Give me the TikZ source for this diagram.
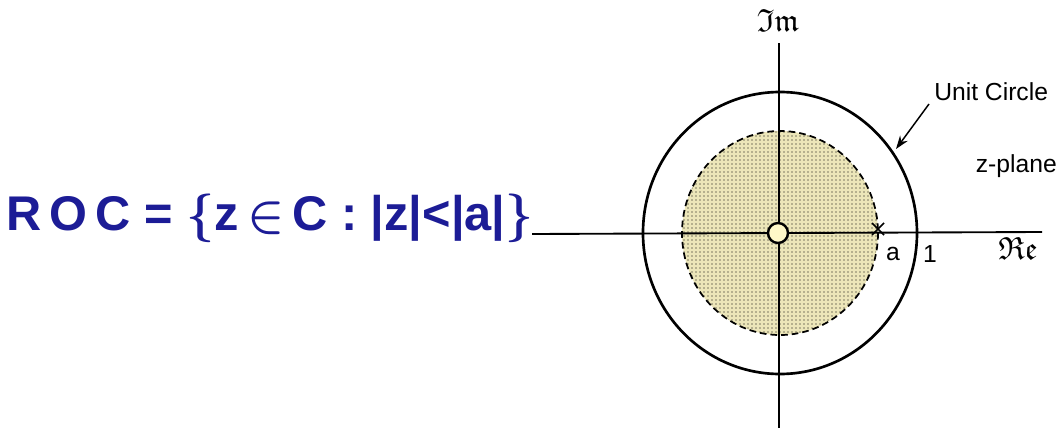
\documentclass[tikz,border=0pt]{standalone}
\usepackage{amsmath}
\usepackage{amssymb}
\usepackage{fontspec}
\setmainfont{Liberation Sans}
\usetikzlibrary{patterns,arrows.meta,calc}
\definecolor{ink}{RGB}{28,28,150}
\definecolor{disc}{RGB}{236,230,185}
\definecolor{polefill}{RGB}{255,248,200}
\tikzset{
  axis/.style={line width=1.4pt,black},
  lbl/.style={font=\fontsize{18.5}{21}\selectfont,inner sep=0pt},
  frak/.style={font=\fontsize{24}{26}\selectfont,inner sep=0pt},
}
\begin{document}
\begin{tikzpicture}[x=0.75pt,y=-0.75pt]
\useasboundingbox (0,0) rectangle (1061,432);
% shaded disc
\coordinate (O) at (780,233);
\fill[disc] (O) ellipse [x radius=98, y radius=102];
\fill[pattern=dots,pattern color=black] (O) ellipse [x radius=98, y radius=102];
\draw[line width=1.3pt,dash pattern=on 5pt off 3pt] (O) ellipse [x radius=98, y radius=102];
% axes
\coordinate (xl) at (532,234);
\coordinate (xr) at (1042,232);
\coordinate (yt) at (779,43);
\coordinate (yb) at (779,428);
\draw[axis] (xl) -- (xr);
\draw[axis] (yt) -- (yb);
% unit circle
\draw[line width=2pt] (O) ellipse [x radius=137, y radius=141];
% zero marker at a
\coordinate (xa) at (878,229);
\draw[line width=1.3pt] ($(xa)+(-6,-6)$) -- ($(xa)+(6,6)$) ($(xa)+(-6,6)$) -- ($(xa)+(6,-6)$);
% pole marker
\node[circle,draw,line width=1.8pt,fill=polefill,minimum size=15pt,inner sep=0pt] (p) at (778,233) {};
% labels
\node[lbl] (la) at (893,254) {a};
\node[lbl] (l1) at (930,254) {1};
\node[frak] (re) at (1018,248) {$\mathfrak{Re}$};
\node[frak] (im) at (778,20) {$\mathfrak{Im}$};
\node[lbl,anchor=west] (uc) at (934,92) {Unit Circle};
\node[lbl,anchor=east] (zp) at (1057,166) {z-plane};
\coordinate (ucs) at (929,104);
\coordinate (uce) at (896,149);
\draw[line width=1.1pt,-{Stealth[length=10pt,width=7pt]}] (ucs) -- (uce);
% handwritten ROC
\node[ink,inner sep=0pt,anchor=center] (roc) at (270,218)
  {\resizebox{395pt}{!}{\fontseries{b}\selectfont R\,O\,C = $\boldsymbol{\{}$z$\,\boldsymbol{\in}\,$C : |z|<|a|$\boldsymbol{\}}$}};
\end{tikzpicture}
\end{document}
